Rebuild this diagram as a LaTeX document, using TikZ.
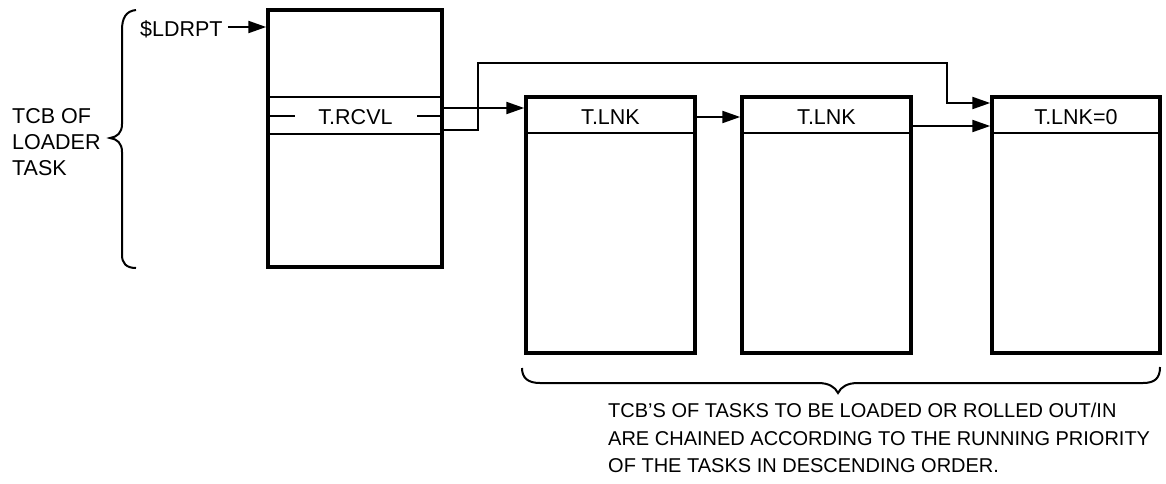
\documentclass[tikz,border=0pt]{standalone}
\usepackage{fontspec}
\setmainfont{Liberation Sans}
\usetikzlibrary{arrows.meta}
\tikzset{
  tcbbox/.style={draw, line width=3.5pt, minimum width=#1, inner sep=0pt},
  band/.style={line width=2.2pt},
  conn/.style={line width=2.2pt, -{Triangle[length=18pt,width=12pt]}},
  lbl/.style={inner sep=0pt, font=\fontsize{20}{24}\selectfont},
  biglbl/.style={inner sep=0pt, font=\fontsize{21.5}{24}\selectfont},
  brace/.style={line width=2pt},
}
\begin{document}
\begin{tikzpicture}[x=1pt,y=-1pt]
\useasboundingbox (0,0) rectangle (1166,483);
% loader TCB
\node[tcbbox=174pt, minimum height=257pt] (ld) at (355,138.5) {};
\draw[band] (ld.west |- 0,97) -- (ld.east |- 0,97);
\draw[band] (ld.west |- 0,134) -- (ld.east |- 0,134);
\node[biglbl, anchor=base] (rcvl) at (355.5,124) {T.RCVL};
\draw[band] (ld.west |- 0,116) -- (295,116);
\draw[band] (417,116) -- (ld.east |- 0,116);
% chained TCBs
\node[tcbbox=169pt, minimum height=256pt] (b2) at (610.5,225) {};
\node[tcbbox=169pt, minimum height=256pt] (b3) at (826.5,225) {};
\node[tcbbox=168pt, minimum height=256pt] (b4) at (1076,225) {};
\foreach \b in {b2,b3,b4}{
  \draw[band] (\b.west |- 0,133) -- (\b.east |- 0,133);
}
\node[biglbl, anchor=base] (h2) at (610.5,124) {T.LNK};
\node[biglbl, anchor=base] (h3) at (826.5,124) {T.LNK};
\node[biglbl, anchor=base] (h4) at (1076,124) {T.LNK=0};
% $LDRPT pointer
\node[biglbl, anchor=base west] (ldrpt) at (140,36) {\$LDRPT};
\draw[conn] (ldrpt.east |- 0,27) ++(5,0) -- (ld.west |- 0,27);
% connectors
\draw[conn] (ld.east |- 0,108) -- (b2.west |- 0,108);
\coordinate (k1) at (478,130);
\coordinate (k2) at (478,63);
\coordinate (k3) at (947,63);
\coordinate (k4) at (947,103);
\draw[conn] (ld.east |- 0,130) -- (k1) -- (k2) -- (k3) -- (k4) -- (b4.west |- k4);
\draw[conn] (b2.east |- 0,117) -- (b3.west |- 0,117);
\draw[conn] (b3.east |- 0,126) -- (b4.west |- 0,126);
% left brace and label
\draw[brace] (136,10) .. controls (126,11) and (122,18) .. (122,30) -- (122,124)
  .. controls (122,133) and (117,137) .. (110,138)
  .. controls (117,139) and (122,143) .. (122,152) -- (122,255)
  .. controls (122,263) and (126,268) .. (136,268);
\node[biglbl, anchor=base west] (l1) at (12,123) {TCB OF};
\node[biglbl, anchor=base west] (l2) at (12,149) {LOADER};
\node[biglbl, anchor=base west] (l3) at (12,175) {TASK};
% bottom brace and label
\draw[brace] (522,368) .. controls (522,378) and (528,383) .. (540,383) -- (818,383)
  .. controls (829,383) and (835,387) .. (838,393)
  .. controls (841,387) and (847,383) .. (858,383) -- (1143,383)
  .. controls (1155,383) and (1160,378) .. (1160,367);
\node[lbl, anchor=base west] (n1) at (608,417) {TCB’S OF TASKS TO BE LOADED OR ROLLED OUT/IN};
\node[lbl, anchor=base west] (n2) at (608,445) {ARE CHAINED ACCORDING TO THE RUNNING PRIORITY};
\node[lbl, anchor=base west] (n3) at (608,472) {OF THE TASKS IN DESCENDING ORDER.};
\end{tikzpicture}
\end{document}
